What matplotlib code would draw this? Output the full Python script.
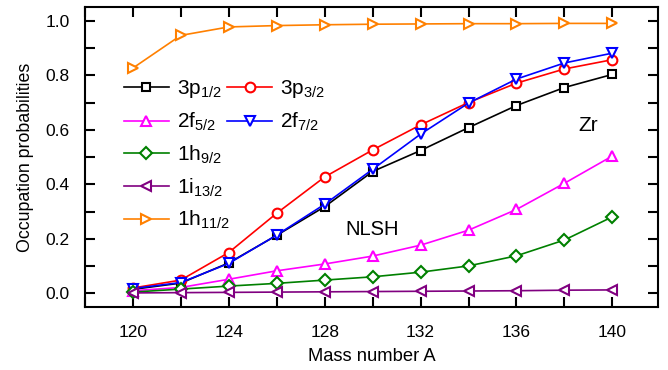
import matplotlib
matplotlib.use("Agg")
import matplotlib.pyplot as plt
from matplotlib.lines import Line2D
from matplotlib.ticker import MultipleLocator

plt.rcParams["font.family"] = ["Liberation Sans", "DejaVu Sans"]
plt.rcParams["mathtext.fontset"] = "custom"
plt.rcParams["mathtext.rm"] = "Liberation Sans"

mass = [120, 122, 124, 126, 128, 130, 132, 134, 136, 138, 140]

p1_2 = [0.015, 0.038, 0.112, 0.213, 0.318, 0.447, 0.524, 0.608, 0.689, 0.755, 0.803]
p3_2 = [0.020, 0.049, 0.150, 0.294, 0.427, 0.526, 0.618, 0.700, 0.771, 0.823, 0.857]
f5_2 = [0.010, 0.022, 0.052, 0.083, 0.108, 0.137, 0.177, 0.232, 0.308, 0.404, 0.504]
f7_2 = [0.018, 0.040, 0.110, 0.214, 0.327, 0.455, 0.584, 0.698, 0.786, 0.845, 0.881]
h9_2 = [0.005, 0.016, 0.027, 0.037, 0.049, 0.061, 0.078, 0.101, 0.138, 0.196, 0.281]
i13_2 = [0.002, 0.003, 0.004, 0.005, 0.006, 0.007, 0.008, 0.009, 0.010, 0.012, 0.013]
h11_2 = [0.826, 0.946, 0.977, 0.982, 0.985, 0.987, 0.988, 0.989, 0.989, 0.990, 0.990]

series = [
    (p1_2, r"$\mathregular{3p_{1/2}}$", "black", "s"),
    (p3_2, r"$\mathregular{3p_{3/2}}$", "#FF0000", "o"),
    (f5_2, r"$\mathregular{2f_{5/2}}$", "#FF00FF", "^"),
    (f7_2, r"$\mathregular{2f_{7/2}}$", "#0000FF", "v"),
    (h9_2, r"$\mathregular{1h_{9/2}}$", "#008000", "D"),
    (i13_2, r"$\mathregular{1i_{13/2}}$", "#800080", "<"),
    (h11_2, r"$\mathregular{1h_{11/2}}$", "#FF8000", ">"),
]

fig = plt.figure(figsize=(6.68, 3.7), dpi=100)
ax = fig.add_axes([0.127, 0.170, 0.858, 0.811])

handles = {}
for vals, label, color, marker in series:
    ms = 6.5 if marker == "D" else 7
    if marker == "s":
        ms = 6
    (h,) = ax.plot(mass, vals, color=color, lw=1.2, marker=marker, ms=ms,
                   mfc="white", mec=color, mew=1.5, label=label)
    handles[label] = h

# two-column legend: first two rows paired, the rest in the left column
labels = [s[1] for s in series]
blank = Line2D([], [], color="none")
order = [handles[labels[0]], handles[labels[2]], handles[labels[4]],
         handles[labels[5]], handles[labels[6]],
         handles[labels[1]], handles[labels[3]], blank, blank, blank]
order_labels = [labels[0], labels[2], labels[4], labels[5], labels[6],
                labels[1], labels[3], "", "", ""]
ax.legend(order, order_labels, ncol=2, loc="upper left",
          bbox_to_anchor=(0.053, 0.79), frameon=False, fontsize=15,
          handlelength=2.2, handletextpad=0.35, columnspacing=-0.15,
          labelspacing=0.5, borderaxespad=0)

ax.text(128.85, 0.236, "NLSH", fontsize=14.5, va="center", ha="left")
ax.text(138.6, 0.615, "Zr", fontsize=15, va="center", ha="left")

ax.set_xlim(118, 141.9)
ax.set_ylim(-0.05, 1.05)
ax.xaxis.set_major_locator(MultipleLocator(4))
ax.xaxis.set_minor_locator(MultipleLocator(2))
ax.yaxis.set_major_locator(MultipleLocator(0.2))
ax.yaxis.set_minor_locator(MultipleLocator(0.1))
ax.yaxis.set_major_formatter(plt.FormatStrFormatter("%.1f"))
ax.tick_params(which="both", direction="in", top=True, right=True,
               length=7, width=1.5, labelsize=12.5)
ax.tick_params(axis="x", pad=13)
ax.tick_params(axis="y", pad=11)
for sp in ax.spines.values():
    sp.set_linewidth(1.5)

ax.set_xlabel("Mass number A", fontsize=13.2, labelpad=6)
ax.set_ylabel("Occupation probabilities", fontsize=12.8, labelpad=8)

fig.savefig("out.png", dpi=100)
